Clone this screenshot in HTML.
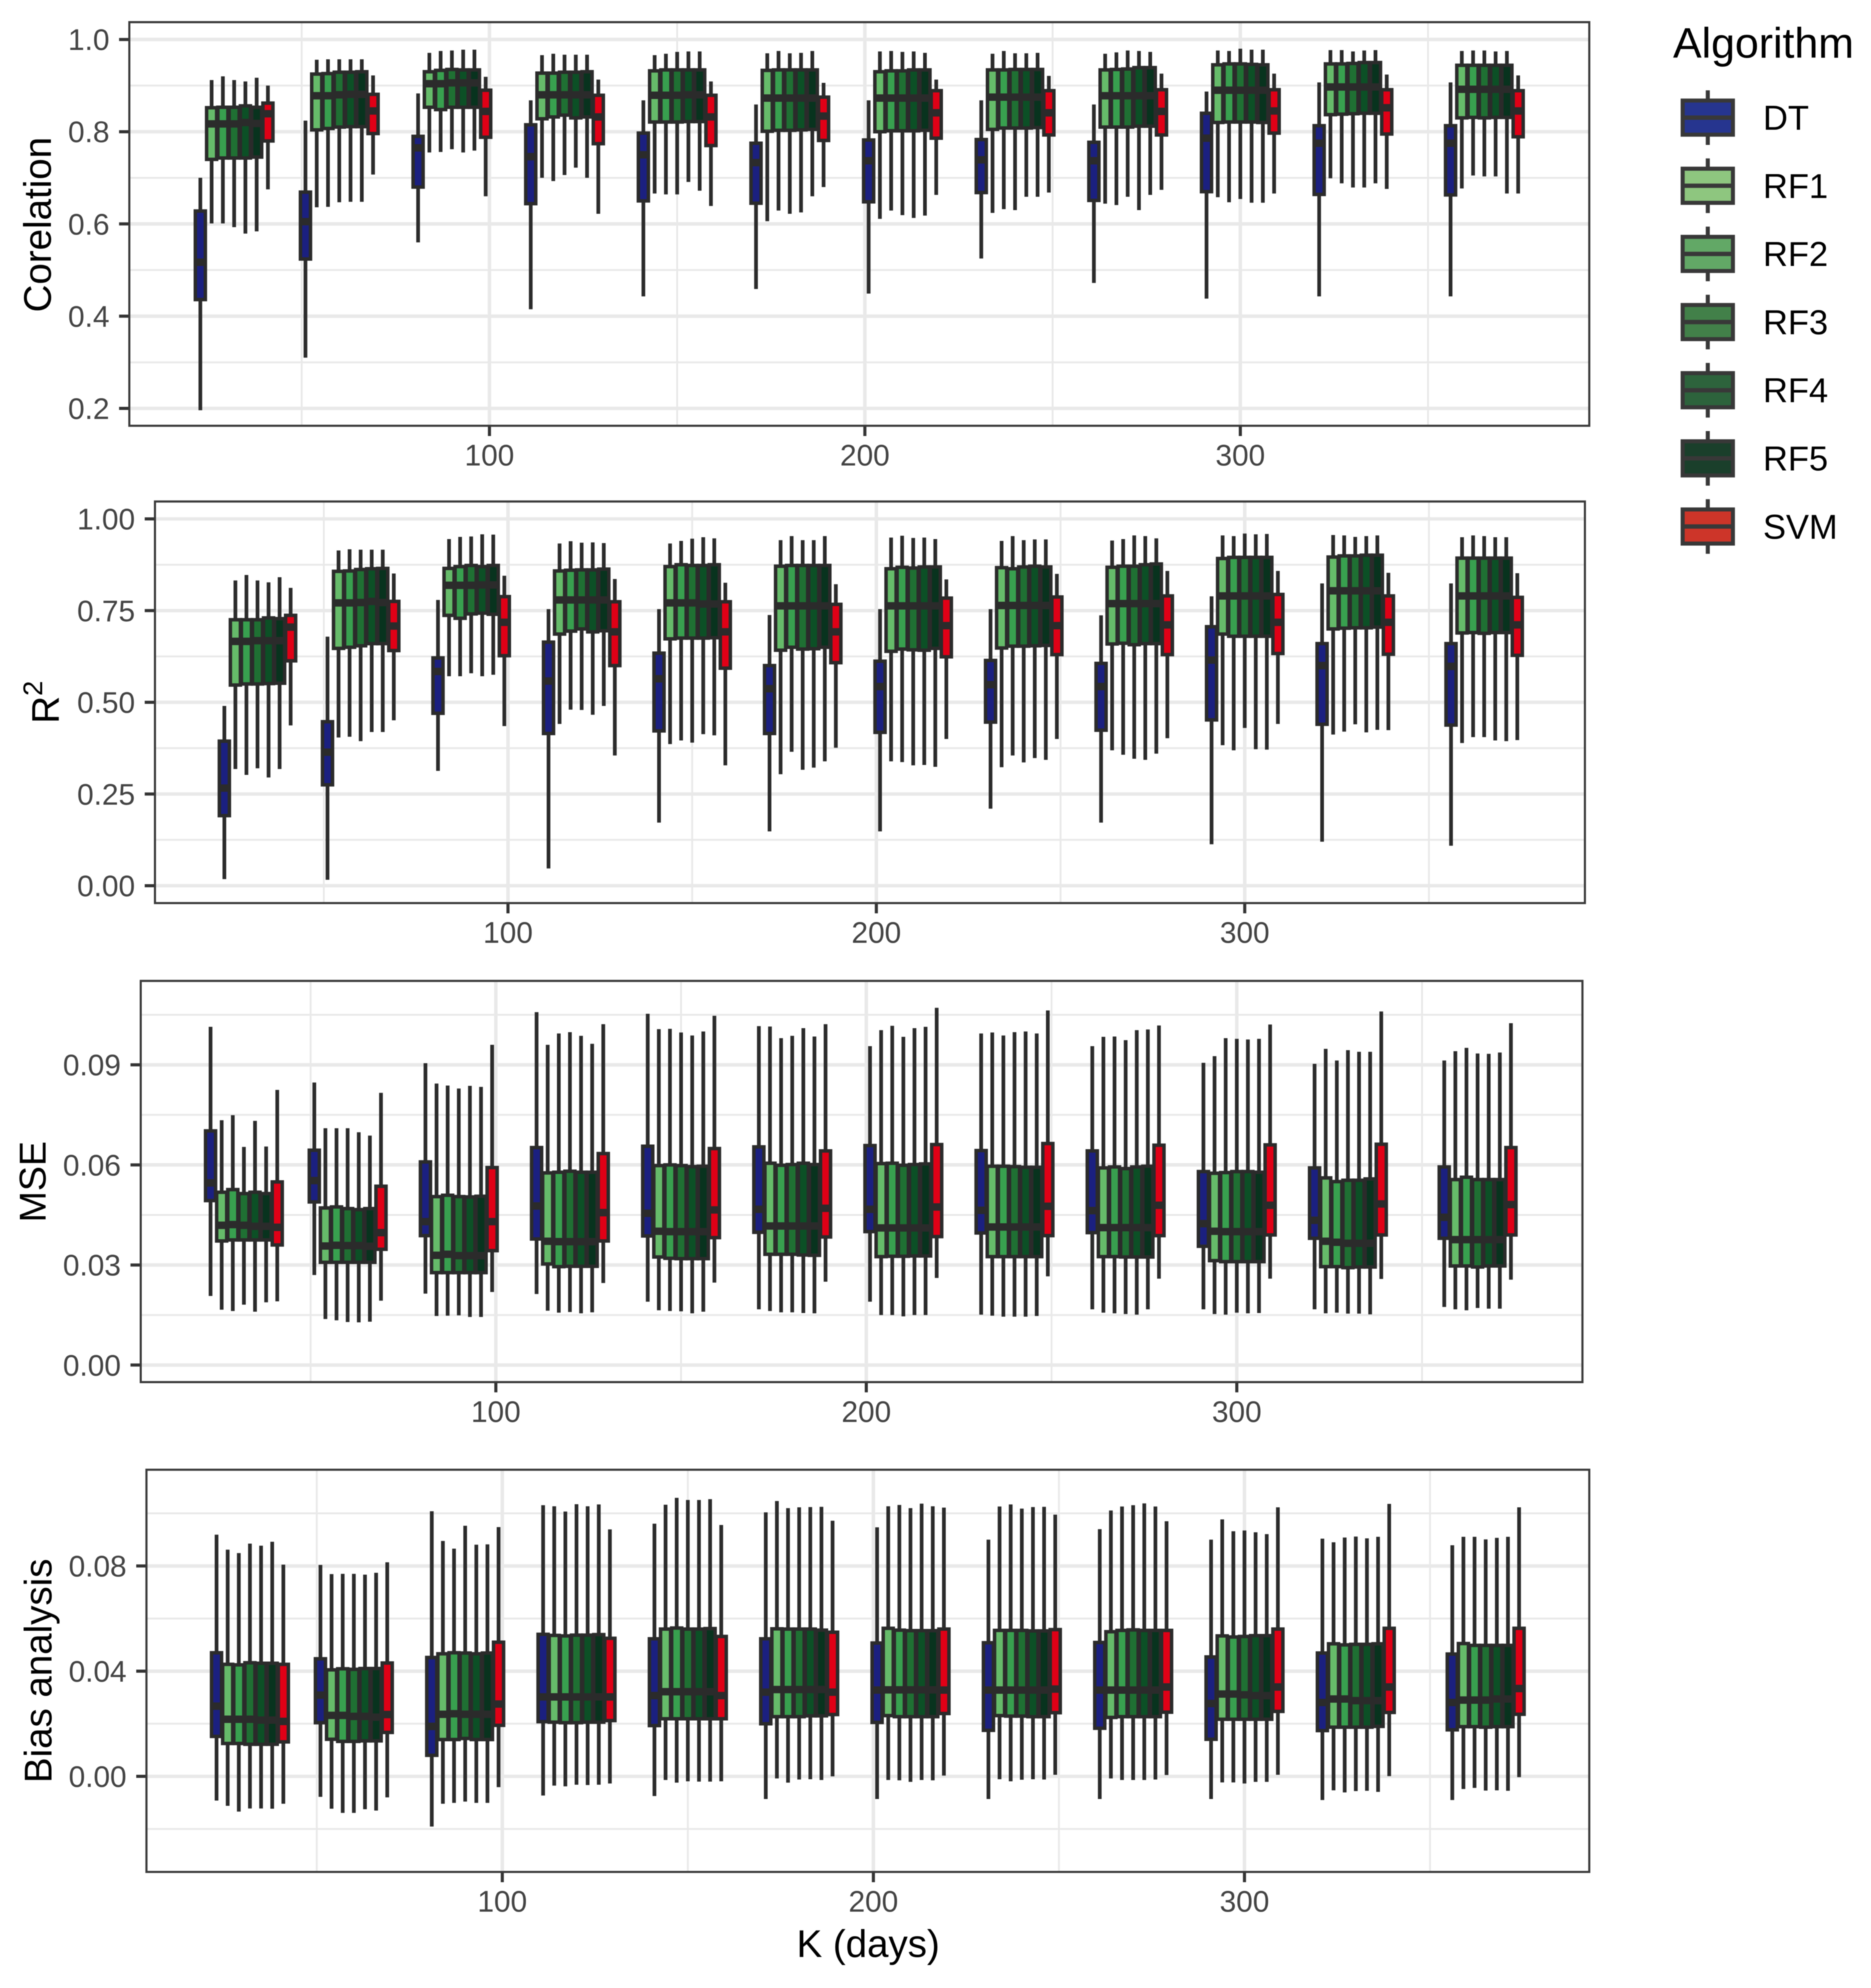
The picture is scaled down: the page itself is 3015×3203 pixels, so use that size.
<!DOCTYPE html>
<html lang="en">
<head>
<meta charset="utf-8">
<title>Algorithm performance by K (days)</title>
<style>
html,body{margin:0;padding:0;background:#fff;}
svg{display:block;font-family:"Liberation Sans",Arial,sans-serif;filter:blur(0.8px);}
</style>
</head>
<body>
<svg id="chart" xmlns="http://www.w3.org/2000/svg" width="3015" height="3203" viewBox="0 0 3015 3203">
  <rect x="0" y="0" width="3015" height="3203" fill="#ffffff"/>
  <text transform="translate(82,362) rotate(-90)" text-anchor="middle" font-size="62" fill="#000">Corelation</text>
  <text transform="translate(95,1166) rotate(-90)" font-size="62" fill="#000">R<tspan font-size="44" dy="-27">2</tspan></text>
  <text transform="translate(73.5,1904) rotate(-90)" text-anchor="middle" font-size="60.5" fill="#000">MSE</text>
  <text transform="translate(83,2692) rotate(-90)" text-anchor="middle" font-size="62" fill="#000">Bias analysis</text>
  <text x="1399" y="3153" text-anchor="middle" font-size="62" fill="#000">K (days)</text>
  <text x="2696" y="93" font-size="69" fill="#000">Algorithm</text>
  <g id="panels"></g>
  <g id="legend"></g>
</svg>
<script>
// Categories
const kValues = [32, 60, 90, 120, 150, 180, 210, 240, 270, 300, 330, 365];
const algorithms = ["DT", "RF1", "RF2", "RF3", "RF4", "RF5", "SVM"];
const dodgeDays = [-9, -6, -3, 0, 3, 6, 9];
const xMajorTicks = [100, 200, 300];
const xMinorTicks = [50, 150, 250, 350];

// Corelation panel: each row is one K value, columns follow `algorithms`
const corLow = [
[.196,.601,.601,.593,.579,.584,.675],
[.31,.636,.637,.647,.648,.648,.707],
[.56,.755,.756,.762,.755,.759,.66],
[.415,.70,.693,.706,.722,.70,.622],
[.443,.666,.664,.664,.691,.672,.639],
[.459,.606,.629,.622,.625,.66,.68],
[.449,.611,.629,.619,.613,.618,.663],
[.525,.624,.632,.63,.659,.659,.668],
[.472,.644,.641,.659,.63,.663,.674],
[.438,.658,.647,.654,.646,.646,.666],
[.443,.699,.688,.679,.679,.688,.676],
[.443,.677,.705,.703,.703,.666,.666]];
const corQ1 = [
[.436,.74,.743,.743,.743,.745,.78],
[.524,.804,.807,.81,.811,.811,.796],
[.68,.853,.848,.853,.853,.853,.788],
[.644,.828,.832,.836,.83,.832,.774],
[.65,.821,.821,.821,.822,.822,.77],
[.645,.801,.803,.803,.804,.805,.781],
[.648,.80,.802,.802,.802,.803,.786],
[.668,.805,.808,.808,.808,.809,.793],
[.651,.81,.81,.81,.812,.812,.793],
[.67,.82,.821,.821,.821,.82,.797],
[.664,.837,.838,.839,.84,.84,.795],
[.663,.83,.831,.83,.831,.831,.789]];
const corMedian = [
[.517,.817,.817,.817,.82,.818,.839],
[.605,.878,.878,.88,.881,.881,.845],
[.765,.904,.904,.906,.906,.906,.844],
[.746,.88,.88,.88,.88,.88,.832],
[.75,.879,.879,.879,.88,.88,.832],
[.733,.873,.873,.873,.873,.873,.834],
[.737,.873,.873,.873,.873,.873,.841],
[.739,.875,.875,.875,.875,.875,.841],
[.737,.878,.878,.878,.878,.878,.844],
[.786,.89,.89,.89,.89,.89,.845],
[.775,.897,.897,.897,.897,.897,.852],
[.775,.892,.892,.892,.892,.892,.845]];
const corQ3 = [
[.628,.852,.853,.853,.856,.853,.862],
[.669,.925,.926,.929,.929,.93,.881],
[.79,.93,.933,.935,.934,.934,.89],
[.815,.927,.927,.929,.929,.93,.879],
[.797,.932,.934,.934,.934,.934,.879],
[.775,.933,.934,.934,.934,.934,.875],
[.782,.93,.932,.932,.934,.934,.889],
[.783,.934,.934,.935,.935,.935,.889],
[.777,.934,.935,.936,.939,.939,.891],
[.84,.945,.947,.947,.946,.945,.891],
[.813,.947,.947,.948,.95,.95,.891],
[.813,.944,.944,.944,.944,.944,.889]];
const corHigh = [
[.70,.912,.92,.912,.909,.917,.90],
[.824,.956,.957,.957,.957,.957,.922],
[.883,.971,.975,.976,.978,.978,.919],
[.868,.966,.969,.967,.967,.967,.913],
[.868,.966,.969,.973,.974,.974,.909],
[.859,.97,.975,.97,.971,.975,.906],
[.868,.974,.975,.973,.974,.971,.913],
[.868,.969,.975,.97,.97,.971,.921],
[.859,.969,.972,.976,.975,.973,.926],
[.887,.976,.975,.98,.978,.978,.926],
[.907,.977,.977,.974,.976,.977,.924],
[.907,.975,.976,.976,.974,.975,.922]];
const corTickValues = [0.2, 0.4, 0.6, 0.8, 1.0];
const corTickLabels = ["0.2", "0.4", "0.6", "0.8", "1.0"];
const corMinorTicks = [0.3, 0.5, 0.7, 0.9];

// R-squared panel
const r2Low = [
[.018,.318,.302,.32,.295,.318,.437],
[.016,.404,.406,.394,.419,.419,.451],
[.313,.571,.571,.579,.571,.575,.435],
[.047,.441,.48,.479,.466,.49,.355],
[.172,.386,.396,.39,.413,.41,.328],
[.148,.304,.365,.316,.322,.339,.376],
[.148,.339,.337,.328,.329,.324,.40],
[.21,.323,.355,.336,.348,.343,.40],
[.172,.369,.357,.346,.343,.36,.402],
[.113,.383,.369,.43,.372,.371,.441],
[.12,.412,.42,.44,.418,.425,.424],
[.109,.389,.405,.405,.396,.394,.397]];
const r2Q1 = [
[.191,.547,.55,.55,.551,.552,.613],
[.275,.647,.65,.654,.66,.66,.641],
[.47,.737,.729,.741,.743,.74,.627],
[.415,.686,.694,.70,.692,.695,.60],
[.422,.673,.675,.675,.675,.676,.593],
[.415,.642,.65,.645,.646,.65,.608],
[.418,.639,.645,.643,.642,.647,.624],
[.446,.648,.653,.653,.654,.655,.63],
[.424,.659,.661,.657,.66,.66,.63],
[.452,.686,.68,.68,.68,.68,.633],
[.44,.70,.702,.703,.703,.705,.631],
[.438,.689,.69,.688,.69,.69,.628]];
const r2Median = [
[.266,.666,.666,.668,.668,.668,.705],
[.364,.771,.771,.772,.775,.772,.708],
[.584,.819,.819,.819,.82,.82,.718],
[.558,.779,.779,.779,.779,.779,.692],
[.564,.771,.771,.771,.768,.768,.692],
[.537,.763,.763,.763,.763,.763,.692],
[.543,.763,.763,.763,.763,.763,.709],
[.548,.764,.764,.764,.764,.764,.709],
[.543,.769,.769,.769,.769,.769,.711],
[.615,.79,.79,.79,.79,.79,.718],
[.60,.804,.804,.804,.804,.804,.718],
[.598,.79,.79,.79,.79,.79,.711]];
const r2Q3 = [
[.394,.725,.725,.725,.73,.728,.737],
[.447,.857,.858,.862,.864,.865,.775],
[.621,.865,.87,.873,.87,.873,.788],
[.664,.858,.86,.861,.861,.863,.774],
[.634,.87,.875,.873,.873,.875,.774],
[.60,.871,.873,.873,.873,.873,.767],
[.612,.864,.868,.866,.869,.869,.784],
[.614,.867,.864,.869,.871,.869,.787],
[.606,.868,.871,.871,.875,.877,.79],
[.706,.892,.895,.895,.895,.895,.794],
[.66,.896,.899,.899,.901,.901,.79],
[.66,.893,.893,.893,.893,.893,.786]];
const r2High = [
[.49,.832,.847,.832,.827,.841,.812],
[.679,.914,.917,.916,.916,.916,.851],
[.779,.945,.951,.952,.958,.957,.845],
[.754,.933,.939,.935,.936,.934,.836],
[.754,.933,.94,.946,.95,.947,.826],
[.738,.942,.953,.942,.942,.953,.822],
[.754,.949,.954,.948,.949,.945,.835],
[.754,.94,.953,.942,.944,.944,.85],
[.737,.941,.945,.955,.953,.947,.858],
[.789,.955,.953,.96,.958,.959,.858],
[.824,.956,.955,.951,.953,.955,.853],
[.824,.95,.955,.953,.95,.95,.852]];
const r2TickValues = [0, 0.25, 0.5, 0.75, 1.0];
const r2TickLabels = ["0.00", "0.25", "0.50", "0.75", "1.00"];
const r2MinorTicks = [0.125, 0.375, 0.625, 0.875];

// MSE panel
const mseLow = [
[.0207,.0166,.0162,.0181,.016,.0188,.0191],
[.027,.0138,.0134,.0129,.0128,.013,.0193],
[.0214,.0147,.0148,.0149,.0144,.0144,.0219],
[.0213,.0163,.0157,.0159,.0155,.0158,.0246],
[.019,.0164,.0162,.0161,.0155,.016,.0247],
[.0167,.0162,.0158,.0158,.0156,.0155,.025],
[.019,.015,.015,.0146,.015,.015,.0261],
[.0151,.0148,.0145,.0145,.0145,.0147,.0266],
[.0167,.0157,.0155,.0153,.0151,.0167,.0259],
[.0167,.0153,.0151,.0157,.0155,.0156,.0259],
[.0167,.0155,.0157,.0154,.0154,.0152,.0258],
[.0174,.0167,.0164,.0171,.0169,.0169,.0256]];
const mseQ1 = [
[.0493,.0372,.0375,.0375,.0375,.0375,.036],
[.0489,.0308,.0308,.0308,.0308,.0308,.0347],
[.0388,.0277,.0277,.0277,.0277,.0277,.0343],
[.0378,.0303,.0295,.0296,.0296,.0296,.0372],
[.0387,.0324,.032,.0319,.0319,.0319,.0382],
[.0398,.0332,.0332,.0332,.033,.0329,.0384],
[.04,.0325,.0326,.0326,.0327,.0327,.0385],
[.0396,.0325,.0325,.0325,.0325,.0325,.0388],
[.0397,.0325,.0325,.0324,.0324,.0324,.0388],
[.0356,.0313,.031,.031,.031,.031,.039],
[.038,.0295,.0295,.0292,.0294,.0294,.039],
[.038,.0297,.0297,.0294,.0297,.0297,.039]];
const mseMedian = [
[.0546,.0419,.0421,.0419,.0416,.0416,.0413],
[.0553,.0357,.0359,.0358,.0358,.0356,.0397],
[.043,.0329,.0332,.0328,.0328,.0328,.043],
[.0477,.0371,.037,.037,.037,.037,.0457],
[.0455,.0401,.04,.04,.04,.04,.0465],
[.0467,.0417,.0417,.0417,.0417,.0417,.047],
[.0467,.0411,.0411,.0411,.0411,.0411,.0474],
[.0464,.0414,.0414,.0414,.0414,.0414,.0476],
[.0463,.0412,.0412,.0412,.0412,.0412,.0479],
[.0424,.0401,.04,.04,.04,.04,.0479],
[.0434,.0371,.0368,.0365,.0365,.0365,.0483],
[.0443,.0376,.0376,.0376,.0376,.0376,.0481]];
const mseQ3 = [
[.0702,.0518,.0526,.0514,.0518,.0514,.0549],
[.0644,.0471,.0474,.0469,.0466,.0469,.0536],
[.0609,.0505,.0509,.0505,.0504,.0506,.0592],
[.0652,.0576,.0578,.0581,.0578,.0578,.0634],
[.0656,.0598,.06,.0598,.0595,.0596,.0649],
[.0654,.0605,.0599,.0601,.0605,.0601,.0642],
[.0658,.0604,.0605,.0599,.0601,.0603,.0661],
[.0643,.0596,.0596,.0595,.0593,.0593,.0664],
[.0642,.0591,.0594,.0589,.0594,.0596,.0659],
[.058,.0575,.0577,.058,.058,.0578,.066],
[.0591,.0561,.055,.0554,.0554,.0558,.0662],
[.0594,.0556,.0563,.0556,.0556,.0556,.0652]];
const mseHigh = [
[.1014,.0734,.0749,.0654,.0732,.0655,.0825],
[.0847,.071,.071,.071,.0698,.0688,.0816],
[.0905,.0844,.0838,.0829,.0837,.0834,.096],
[.1058,.096,.0994,.0998,.0987,.0963,.1022],
[.1053,.1007,.1008,.0997,.0988,.1,.1047],
[.1016,.1015,.098,.0987,.101,.0985,.1022],
[.0956,.1004,.1017,.0984,.101,.1014,.1071],
[.0994,.0997,.0988,.0998,.1,.0994,.1063],
[.0956,.0984,.0985,.0974,.1004,.1006,.1018],
[.0906,.0926,.098,.0978,.0976,.0978,.1021],
[.0903,.0948,.0913,.0944,.0939,.0939,.106],
[.0913,.0941,.0951,.0934,.0933,.0937,.1025]];
const mseTickValues = [0, 0.03, 0.06, 0.09];
const mseTickLabels = ["0.00", "0.03", "0.06", "0.09"];
const mseMinorTicks = [0.015, 0.045, 0.075, 0.105];

// Bias analysis panel
const biasLow = [
[-.0092,-.0112,-.0134,-.0122,-.0122,-.0123,-.0104],
[-.0078,-.0123,-.0139,-.0139,-.0125,-.013,-.008],
[-.0191,-.0104,-.0101,-.0096,-.0101,-.0101,-.0041],
[-.0073,-.0035,-.0038,-.0032,-.0033,-.0032,-.0027],
[-.0075,-.0014,-.0024,-.0019,-.002,-.002,-.0019],
[-.0086,-.0008,-.0024,-.0012,-.0011,-.0014,0],
[-.0086,-.0014,-.0015,-.0021,-.0014,-.0015,.0003],
[-.0086,-.0011,-.0019,-.0013,-.0011,-.0012,.0006],
[-.0086,-.0008,-.0014,-.0014,-.0014,-.0012,.0005],
[-.0086,-.0023,-.0023,-.0027,-.0021,-.0021,.0006],
[-.009,-.0053,-.0061,-.0056,-.0055,-.0059,.0001],
[-.009,-.0048,-.0044,-.0054,-.0053,-.0055,-.0003]];
const biasQ1 = [
[.0152,.0125,.0125,.0122,.0122,.0122,.0131],
[.0204,.0141,.0133,.0133,.0135,.0135,.0167],
[.008,.014,.014,.0144,.014,.014,.0194],
[.0208,.0206,.0204,.0204,.0206,.0206,.0212],
[.0193,.0219,.0219,.0219,.0219,.0219,.0219],
[.02,.0227,.0227,.0227,.023,.023,.0235],
[.0205,.0231,.0227,.0227,.0227,.0227,.0239],
[.0175,.0231,.0229,.0229,.0227,.0227,.0242],
[.0183,.0224,.0227,.0227,.0227,.0227,.0244],
[.0141,.0217,.0217,.0217,.0217,.0217,.0247],
[.0174,.0187,.0187,.0187,.0187,.019,.0243],
[.0177,.0189,.0189,.0187,.0189,.0189,.0236]];
const biasMedian = [
[.0267,.0217,.0217,.0217,.0214,.0214,.0209],
[.0309,.0232,.0232,.0228,.0228,.0225,.0235],
[.019,.0236,.0238,.0236,.0236,.0236,.0275],
[.0302,.0302,.0302,.0302,.0302,.0302,.0302],
[.0307,.0322,.0322,.0322,.0322,.0322,.0307],
[.032,.033,.033,.033,.033,.033,.032],
[.0328,.0329,.0329,.0329,.0329,.0329,.0328],
[.0328,.0328,.0328,.0328,.0328,.0328,.0332],
[.0328,.0328,.0328,.0328,.0328,.0328,.034],
[.0277,.0313,.0313,.031,.0307,.0307,.034],
[.0281,.0294,.0294,.0288,.0288,.0288,.034],
[.0281,.029,.029,.029,.0294,.0294,.0334]];
const biasQ3 = [
[.047,.0426,.0424,.0432,.043,.043,.0426],
[.0447,.0405,.0409,.0407,.041,.041,.0431],
[.0452,.0466,.047,.0469,.0466,.0469,.051],
[.054,.0536,.0534,.0537,.0537,.0539,.0525],
[.0523,.056,.0564,.056,.056,.0562,.0532],
[.0523,.0561,.056,.056,.056,.0556,.0548],
[.0507,.0563,.0556,.0554,.0554,.0554,.056],
[.0508,.0555,.0555,.0555,.0553,.0553,.0558],
[.0509,.055,.0555,.0557,.0555,.0555,.0555],
[.0454,.0534,.053,.0532,.0535,.0535,.056],
[.0469,.0504,.05,.0502,.0502,.0504,.0563],
[.0465,.0505,.0498,.0498,.0498,.0498,.0563]];
const biasHigh = [
[.0919,.0862,.0849,.0885,.0877,.0892,.0805],
[.0804,.0769,.077,.077,.0767,.0774,.0814],
[.1008,.0895,.0866,.0953,.0881,.0882,.0948],
[.1031,.1027,.1007,.1035,.1027,.1034,.0939],
[.0961,.1033,.1059,.1051,.1051,.1054,.0956],
[.1004,.1047,.102,.1023,.1024,.1025,.0972],
[.0947,.1027,.1032,.102,.1037,.1027,.1022],
[.09,.1026,.1034,.1018,.1024,.1025,.0995],
[.094,.1011,.1026,.1031,.1038,.1026,.097],
[.09,.0977,.0932,.0935,.0928,.0921,.1023],
[.0904,.089,.0908,.0912,.0905,.0911,.1036],
[.0879,.0911,.0911,.0901,.0907,.0911,.1023]];
const biasTickValues = [0, 0.04, 0.08];
const biasTickLabels = ["0.00", "0.04", "0.08"];
const biasMinorTicks = [-0.02, 0.02, 0.06, 0.1];

// Styling and layout, kept apart from the data
const plotFills = ["#1b2080", "#66bb6a", "#38a04f", "#1f7033", "#0c5026", "#08331e", "#e00016"];
const legendFills = ["#26358f", "#8ec67f", "#62a866", "#428049", "#2d633c", "#1a3f2b", "#cd3529"];
const STROKE = "#2b2b2b";
const GRID = "#e9e9e9";
const TICKTEXT = "#444444";

const panels = [
  { key: "corelation", left: 208.4, right: 2561, top: 35.7, bottom: 686, x100: 788.7, xPer100: 605, yRefValue: 0.2, yRefPx: 658, yPerUnit: 743,
    low: corLow, q1: corQ1, median: corMedian, q3: corQ3, high: corHigh, ticks: corTickValues, labels: corTickLabels, minor: corMinorTicks },
  { key: "r-squared", left: 249.7, right: 2554, top: 808, bottom: 1455, x100: 818.6, xPer100: 593.6, yRefValue: 0, yRefPx: 1427, yPerUnit: 591,
    low: r2Low, q1: r2Q1, median: r2Median, q3: r2Q3, high: r2High, ticks: r2TickValues, labels: r2TickLabels, minor: r2MinorTicks },
  { key: "mse", left: 226.8, right: 2550, top: 1580.4, bottom: 2226.8, x100: 799, xPer100: 597, yRefValue: 0, yRefPx: 2199.3, yPerUnit: 5374,
    low: mseLow, q1: mseQ1, median: mseMedian, q3: mseQ3, high: mseHigh, ticks: mseTickValues, labels: mseTickLabels, minor: mseMinorTicks },
  { key: "bias", left: 236, right: 2561, top: 2368, bottom: 3016, x100: 809.4, xPer100: 598, yRefValue: 0, yRefPx: 2862, yPerUnit: 4237,
    low: biasLow, q1: biasQ1, median: biasMedian, q3: biasQ3, high: biasHigh, ticks: biasTickValues, labels: biasTickLabels, minor: biasMinorTicks }
];

const NS = "http://www.w3.org/2000/svg";
function make(parent, tag, props, text) {
  const el = document.createElementNS(NS, tag);
  for (const k in props) el.setAttribute(k, props[k]);
  if (text !== undefined) el.textContent = text;
  parent.appendChild(el);
  return el;
}
function xScale(p, value) { return p.x100 + (value - 100) * p.xPer100 / 100; }
function yScale(p, value) { return p.yRefPx - (value - p.yRefValue) * p.yPerUnit; }

const root = document.getElementById("panels");
const BOX_W = 16.2, LINE_W = 5.6, WHISKER_W = 6, MEDIAN_W = 12;

panels.forEach(function (p) {
  const g = make(root, "g", {});
  
  

  const bg = make(g, "rect", { x: p.left, y: p.top, width: p.right - p.left, height: p.bottom - p.top, fill: "#fff" });
  
  

  p.minor.forEach(function (v) {
    const y = yScale(p, v);
    const ln = make(g, "line", { x1: p.left, x2: p.right, y1: y, y2: y, stroke: GRID, "stroke-width": 3 });
    
    
  });
  xMinorTicks.forEach(function (v) {
    const x = xScale(p, v);
    const ln = make(g, "line", { x1: x, x2: x, y1: p.top, y2: p.bottom, stroke: GRID, "stroke-width": 3 });
    
    
  });
  p.ticks.forEach(function (v, i) {
    const y = yScale(p, v);
    const ln = make(g, "line", { x1: p.left, x2: p.right, y1: y, y2: y, stroke: GRID, "stroke-width": 5.6 });
    
    
    const tk = make(g, "line", { x1: p.left - 16.5, x2: p.left, y1: y, y2: y, stroke: "#333", "stroke-width": 5 });
    
    
    const lb = make(g, "text", { x: p.left - 32, y: y + 17, "text-anchor": "end", "font-size": 48, fill: TICKTEXT }, p.labels[i]);
    
    
  });
  xMajorTicks.forEach(function (v) {
    const x = xScale(p, v);
    const ln = make(g, "line", { x1: x, x2: x, y1: p.top, y2: p.bottom, stroke: GRID, "stroke-width": 5.6 });
    
    
    const tk = make(g, "line", { x1: x, x2: x, y1: p.bottom, y2: p.bottom + 16.5, stroke: "#333", "stroke-width": 5 });
    
    
    const lb = make(g, "text", { x: x, y: p.bottom + 64, "text-anchor": "middle", "font-size": 48, fill: TICKTEXT }, String(v));
    
    
  });

  kValues.forEach(function (k, gi) {
    algorithms.forEach(function (alg, ai) {
      const cx = xScale(p, k + dodgeDays[ai]);
      const box = make(g, "g", {});
      
      

      const wh = make(box, "line", { x1: cx, x2: cx, y1: yScale(p, p.low[gi][ai]), y2: yScale(p, p.high[gi][ai]), stroke: STROKE, "stroke-width": WHISKER_W });
      
      

      const yTop = yScale(p, p.q3[gi][ai]);
      const yBot = yScale(p, p.q1[gi][ai]);
      const rc = make(box, "rect", { x: cx - BOX_W / 2, y: yTop, width: BOX_W, height: yBot - yTop, fill: plotFills[ai], stroke: STROKE, "stroke-width": LINE_W });
      
      

      const yMed = yScale(p, p.median[gi][ai]);
      const md = make(box, "line", { x1: cx - BOX_W / 2, x2: cx + BOX_W / 2, y1: yMed, y2: yMed, stroke: STROKE, "stroke-width": MEDIAN_W });
      
      
    });
  });

  const border = make(g, "rect", { x: p.left, y: p.top, width: p.right - p.left, height: p.bottom - p.top, fill: "none", stroke: "#3a3a3a", "stroke-width": 3.4 });
  
  
});

// Legend
const legend = document.getElementById("legend");
algorithms.forEach(function (alg, i) {
  const cy = 189.5 + i * 109.8;
  const e = make(legend, "g", {});
  
  

  const wh = make(e, "line", { x1: 2752, x2: 2752, y1: cy - 44, y2: cy + 44, stroke: "#383838", "stroke-width": 6.5 });
  
  

  const rc = make(e, "rect", { x: 2711.5, y: cy - 27.5, width: 81, height: 55, fill: legendFills[i], stroke: "#383838", "stroke-width": 6.5 });
  
  

  const md = make(e, "line", { x1: 2711.5, x2: 2792.5, y1: cy, y2: cy, stroke: "#383838", "stroke-width": 7 });
  
  

  const tx = make(e, "text", { x: 2841, y: cy + 19.5, "font-size": 55.5, fill: "#000" }, alg);
  
  
});
</script>
</body>
</html>
